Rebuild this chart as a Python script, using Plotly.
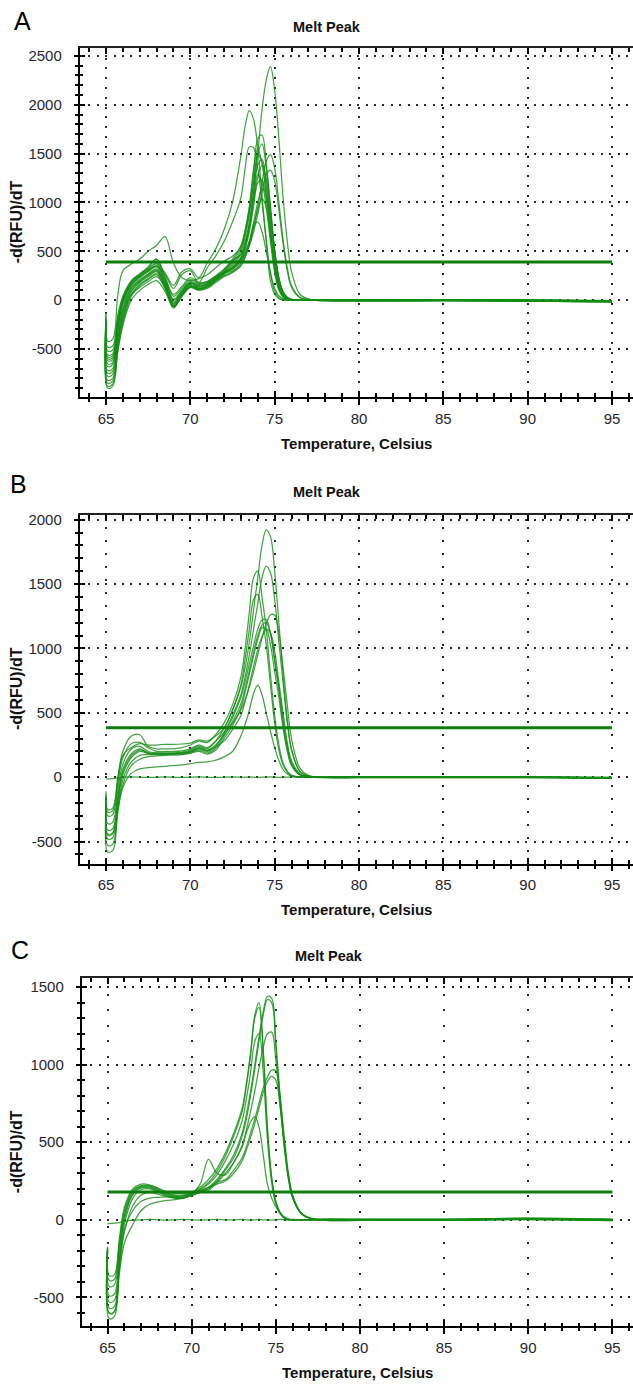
import plotly.graph_objects as go

W, H = 633, 1384

# Temperature grid (Celsius) shared by all melt curves
T = [65.0, 65.1, 65.4, 65.7, 66.0, 66.5, 67.0, 67.5, 68.0, 68.5, 69.0, 69.5, 70.0, 70.5,
     71.0, 71.5, 72.0, 72.5, 73.0, 73.25, 73.5, 73.75, 74.0, 74.25, 74.5, 74.75, 75.0,
     75.25, 75.5, 75.75, 76.0, 76.5, 77.0, 78.0, 80.0, 85.0, 90.0, 95.0]

X_TICKS = [65, 70, 75, 80, 85, 90, 95]
X_LABELS = ["65", "70", "75", "80", "85", "90", "95"]

# ---------------- Panel A : -d(RFU)/dT ----------------
A01 = [-150, -480, -470, -150, 40, 200, 270, 340, 420, 230, 40, 120, 210, 170, 190, 250, 320, 400, 470, 560, 760, 1100, 1500, 1950, 2250, 2390, 2150, 1650, 1050, 600, 290, 60, 12, 0, -2, 0, -4, -12]
A02 = [-200, -580, -570, -240, 10, 180, 260, 320, 380, 280, 150, 290, 320, 230, 380, 520, 720, 1000, 1480, 1780, 1940, 1850, 1560, 1070, 600, 200, 60, 15, 3, 0, 0, 0, 0, 6, 4, 6, 2, -6]
A03 = [-200, -560, -550, -220, 0, 170, 250, 310, 370, 210, 10, 100, 190, 160, 180, 240, 310, 420, 560, 720, 950, 1300, 1650, 1690, 1400, 950, 500, 210, 80, 25, 8, 0, 0, -6, -8, -6, -10, -18]
A04 = [-250, -650, -640, -300, -20, 160, 240, 300, 350, 260, 120, 260, 300, 180, 330, 450, 600, 800, 1050, 1350, 1570, 1560, 1350, 1000, 620, 280, 90, 25, 5, 0, 0, 0, 0, 4, 3, 5, 2, -6]
A05 = [-240, -600, -590, -260, -10, 160, 240, 300, 350, 200, 0, 90, 180, 150, 170, 230, 290, 330, 420, 500, 600, 750, 950, 1200, 1420, 1490, 1350, 1000, 620, 330, 150, 30, 8, 0, -2, 0, -4, -12]
A06 = [-310, -780, -760, -430, -150, 90, 180, 240, 290, 140, -70, 50, 140, 115, 145, 205, 275, 320, 400, 470, 560, 700, 880, 1100, 1280, 1330, 1220, 920, 580, 300, 130, 25, 6, -5, -7, -5, -9, -17]
A07 = [-230, -620, -610, -280, -40, 150, 230, 290, 340, 190, -20, 80, 170, 140, 170, 230, 300, 400, 530, 700, 950, 1350, 1550, 1400, 1080, 680, 320, 120, 40, 12, 3, 0, 0, 0, -2, 0, -4, -12]
A08 = [-260, -680, -660, -330, -80, 130, 210, 270, 320, 170, -40, 70, 160, 130, 160, 220, 290, 380, 500, 650, 880, 1200, 1490, 1420, 1150, 760, 380, 150, 50, 15, 4, 0, 0, 5, 3, 5, 1, -7]
A09 = [-300, -750, -730, -400, -130, 100, 190, 250, 300, 150, -60, 60, 150, 120, 150, 210, 280, 360, 470, 600, 800, 1100, 1380, 1440, 1220, 830, 430, 170, 60, 18, 5, 0, 0, 0, -2, 0, -4, -12]
A10 = [-330, -820, -800, -460, -180, 60, 130, 190, 240, 130, -80, 40, 130, 110, 140, 200, 270, 340, 440, 560, 740, 1000, 1260, 1380, 1250, 900, 500, 220, 80, 25, 8, 0, 0, -6, -8, -6, -10, -18]
A11 = [-380, -880, -860, -510, -240, 40, 150, 210, 260, 120, -50, 50, 140, 110, 130, 190, 260, 330, 430, 560, 760, 1050, 1290, 1200, 950, 600, 280, 100, 30, 8, 0, 0, 0, 0, -2, 0, -4, -12]
A12 = [-280, -720, -700, -370, -100, 120, 200, 260, 310, 160, -30, 90, 180, 140, 160, 215, 280, 320, 410, 520, 700, 960, 1200, 1230, 1040, 700, 350, 130, 45, 12, 3, 0, 0, 5, 3, 5, 1, -7]
A13 = [-180, -520, -510, -190, 20, 190, 260, 330, 420, 240, 60, 140, 230, 180, 190, 240, 280, 300, 380, 470, 600, 800, 1000, 1140, 1080, 850, 500, 230, 90, 30, 8, 0, 0, 0, -2, 0, -4, -12]
A14 = [-350, -850, -830, -480, -200, 60, 160, 220, 270, 140, -60, 50, 140, 120, 140, 200, 250, 290, 360, 440, 560, 740, 930, 1040, 950, 660, 350, 140, 50, 15, 4, 0, 0, 0, -2, 0, -4, -12]
A15 = [-400, -900, -880, -530, -260, 0, 100, 160, 200, 90, -70, 40, 130, 100, 120, 180, 240, 280, 350, 440, 580, 760, 800, 700, 500, 280, 120, 45, 15, 5, 0, 0, 0, -6, -8, -6, -10, -18]
A16 = [-130, -420, -400, 50, 300, 370, 420, 500, 560, 650, 380, 230, 200, 220, 260, 330, 400, 450, 540, 690, 900, 1200, 1500, 1600, 1360, 960, 520, 220, 80, 25, 8, 0, 0, 0, -2, 0, -4, -12]
A_CURVES = [A01, A02, A03, A04, A05, A06, A07, A08, A09, A10, A11, A12, A13, A14, A15, A16]
A_THRESHOLD = 390
A_YTICKS = [-500, 0, 500, 1000, 1500, 2000, 2500]
A_YLABELS = ["-500", "0", "500", "1000", "1500", "2000", "2500"]

# ---------------- Panel B ----------------
B00 = [-10, -12, -10, -5, 0, 2, 0, -2, 0, 2, 0, -2, 0, 2, 0, -2, 0, 2, 0, 0, 2, 0, -2, 0, 0, 2, 0, -2, 0, 0, 2, 0, 0, 2, -2, 2, 0, -5]
B01 = [-130, -270, -260, -20, 170, 230, 260, 250, 250, 255, 255, 258, 265, 290, 280, 320, 380, 520, 700, 850, 1050, 1300, 1550, 1800, 1920, 1870, 1600, 1200, 800, 450, 220, 45, 10, 0, 0, 0, 0, -5]
B02 = [-110, -250, -240, 0, 200, 320, 330, 240, 220, 220, 220, 230, 250, 280, 270, 330, 420, 560, 780, 1000, 1280, 1550, 1600, 1400, 1150, 800, 480, 250, 110, 45, 15, 3, 0, 5, 4, 5, 3, -2]
B03 = [-150, -300, -290, -50, 150, 260, 270, 230, 200, 200, 200, 205, 220, 250, 230, 280, 350, 480, 640, 780, 950, 1150, 1350, 1550, 1640, 1590, 1380, 1050, 730, 420, 210, 45, 8, 0, 0, 0, 0, -5]
B04 = [-170, -360, -350, -100, 100, 220, 240, 200, 190, 190, 190, 195, 210, 240, 220, 280, 380, 520, 720, 920, 1150, 1380, 1420, 1250, 1030, 720, 420, 210, 95, 40, 12, 2, 0, -4, -4, -4, -3, -8]
B05 = [-200, -410, -400, -150, 60, 180, 220, 190, 185, 185, 185, 190, 200, 230, 210, 250, 330, 420, 520, 600, 700, 820, 950, 1080, 1190, 1260, 1260, 1120, 850, 560, 300, 70, 15, 0, 0, 0, 0, -5]
B06 = [-230, -480, -470, -200, 20, 150, 200, 185, 180, 180, 182, 185, 195, 220, 200, 240, 340, 460, 620, 740, 880, 1020, 1150, 1220, 1225, 1120, 900, 680, 420, 220, 100, 20, 4, 5, 4, 5, 3, -2]
B07 = [-260, -530, -520, -240, -20, 120, 170, 175, 175, 175, 178, 180, 190, 210, 190, 225, 320, 430, 570, 690, 830, 970, 1100, 1180, 1200, 1120, 920, 700, 450, 240, 110, 22, 5, 0, 0, 0, 0, -5]
B08 = [-290, -580, -570, -280, -60, 90, 140, 160, 165, 170, 172, 175, 185, 200, 180, 210, 300, 400, 540, 660, 800, 940, 1070, 1160, 1150, 1030, 820, 620, 380, 200, 90, 18, 4, -4, -4, -4, -3, -8]
B09 = [-210, -440, -430, -180, 40, 165, 210, 188, 182, 183, 184, 187, 197, 225, 205, 235, 280, 370, 480, 590, 720, 860, 990, 1090, 1150, 1120, 980, 740, 500, 270, 130, 28, 6, 0, 0, 0, 0, -5]
B10 = [-200, -450, -440, -250, -80, 30, 65, 75, 80, 85, 90, 95, 105, 115, 120, 132, 158, 200, 320, 410, 520, 650, 715, 640, 500, 360, 230, 130, 60, 25, 8, 0, 0, 0, 0, 0, 0, -5]
B_CURVES = [B00, B01, B02, B03, B04, B05, B06, B07, B08, B09, B10]
B_THRESHOLD = 385
B_YTICKS = [-500, 0, 500, 1000, 1500, 2000]
B_YLABELS = ["-500", "0", "500", "1000", "1500", "2000"]

# ---------------- Panel C ----------------
C00 = [-24, -24, -22, -18, -10, -3, 0, 2, 0, -2, 0, 2, 0, -2, 0, 2, 0, 0, 2, 0, -2, 0, 2, 0, 0, -2, 0, 2, 0, 0, 2, 0, -2, 2, 0, 0, 6, 0]
C01 = [-176, -360, -355, -120, 80, 200, 230, 225, 205, 180, 170, 170, 180, 210, 260, 330, 430, 560, 720, 880, 1080, 1320, 1400, 1100, 600, 280, 120, 50, 15, 0, 0, 0, 0, 0, 0, 0, 5, 0]
C02 = [-180, -390, -385, -150, 60, 190, 220, 220, 200, 175, 160, 160, 175, 200, 240, 310, 410, 540, 700, 860, 1060, 1300, 1370, 1080, 580, 270, 115, 45, 12, 0, 0, 0, 0, 5, 4, 5, 10, 4]
C03 = [-185, -430, -420, -180, 40, 180, 215, 215, 195, 170, 155, 155, 170, 195, 230, 290, 380, 490, 640, 780, 950, 1150, 1200, 950, 520, 240, 100, 40, 10, 0, 0, 0, 0, 0, 0, 0, 5, 0]
C04 = [-190, -490, -480, -220, 20, 170, 210, 210, 190, 165, 150, 150, 165, 185, 210, 260, 330, 420, 560, 680, 830, 1000, 1180, 1340, 1440, 1430, 1150, 800, 500, 280, 150, 45, 12, -4, -4, -4, 1, -5]
C05 = [-195, -530, -520, -250, 0, 160, 205, 205, 185, 160, 145, 145, 160, 180, 200, 250, 320, 400, 540, 650, 800, 970, 1150, 1320, 1420, 1400, 1120, 780, 480, 270, 140, 42, 10, 0, 0, 0, 5, 0]
C06 = [-200, -570, -560, -280, -30, 140, 195, 200, 180, 155, 140, 140, 155, 175, 190, 240, 300, 370, 480, 580, 700, 830, 980, 1110, 1200, 1210, 1030, 740, 470, 260, 140, 40, 10, 5, 4, 5, 10, 4]
C07 = [-205, -605, -595, -320, -80, 90, 160, 175, 165, 150, 140, 140, 160, 185, 200, 240, 260, 320, 400, 470, 560, 650, 750, 850, 920, 965, 960, 800, 540, 300, 160, 45, 12, 0, 0, 0, 5, 0]
C08 = [-210, -637, -625, -350, -150, -30, 60, 100, 115, 125, 130, 140, 160, 190, 210, 230, 250, 300, 380, 450, 530, 620, 720, 820, 890, 925, 900, 740, 500, 280, 150, 42, 10, -4, -4, -4, 1, -5]
C09 = [-200, -600, -590, -300, -60, 60, 120, 140, 145, 148, 150, 155, 170, 230, 390, 300, 290, 370, 470, 560, 630, 665, 600, 420, 230, 140, 85, 45, 20, 8, 0, 0, 0, 0, 0, 0, 5, 0]
C_CURVES = [C00, C01, C02, C03, C04, C05, C06, C07, C08, C09]
C_THRESHOLD = 180
C_YTICKS = [-500, 0, 500, 1000, 1500]
C_YLABELS = ["-500", "0", "500", "1000", "1500"]

THRESH_X = [65, 95]
LETTERS = ["A", "B", "C"]
TITLE = "Melt Peak"
X_TITLE = "Temperature, Celsius"
Y_TITLE = "-d(RFU)/dT"

# ---------------- geometry (pixels) ----------------
PANELS = [
    dict(curves=A_CURVES, thr=A_THRESHOLD, yt=A_YTICKS, yl=A_YLABELS, yr=[-990, 2582],
         xr=[63.46, 96.245], left=80, top=44, bottom=394, vdash="2px,7.8px",
         letter_xy=(22, 17), title_xy=(327, 23), xtitle_y=441),
    dict(curves=B_CURVES, thr=B_THRESHOLD, yt=B_YTICKS, yl=B_YLABELS, yr=[-670, 2040],
         xr=[63.46, 96.245], left=80, top=512, bottom=862, vdash="2px,10.9px",
         letter_xy=(18, 481), title_xy=(327, 489), xtitle_y=908),
    dict(curves=C_CURVES, thr=C_THRESHOLD, yt=C_YTICKS, yl=C_YLABELS, yr=[-686, 1558],
         xr=[63.48, 96.23], left=82, top=977, bottom=1326, vdash="2px,13.5px",
         letter_xy=(20, 949), title_xy=(329, 955), xtitle_y=1372),
]

CURVE_COLOR = "rgba(20,140,20,0.8)"
THRESH_COLOR = "#0d7d0d"
FONT = "Liberation Sans, Arial, sans-serif"
TICKFONT = dict(family=FONT, size=15, color="#26262e")

fig = go.Figure()
layout = dict(width=W, height=H, margin=dict(l=0, r=0, t=0, b=0),
              paper_bgcolor="white", plot_bgcolor="white", showlegend=False)
annotations = []


def key(kind, n):
    return kind + "axis" + ("" if n == 1 else str(n))


def ref(kind, n):
    return kind + ("" if n == 1 else str(n))


for i, p in enumerate(PANELS):
    xm, ym = i + 1, i + 1
    xin, xtop, yin = 4 + 2 * i, 5 + 2 * i, 4 + i
    xd = [p["left"] / W, 1.0]
    yd = [1 - p["bottom"] / H, 1 - p["top"] / H]

    for c in p["curves"]:
        fig.add_trace(go.Scatter(x=T, y=c, mode="lines", hoverinfo="skip",
                                 line=dict(color=CURVE_COLOR, width=1.25, shape="spline", smoothing=1.0),
                                 xaxis=ref("x", xm), yaxis=ref("y", ym)))
    fig.add_trace(go.Scatter(x=THRESH_X, y=[p["thr"], p["thr"]], mode="lines", hoverinfo="skip",
                             line=dict(color=THRESH_COLOR, width=3),
                             xaxis=ref("x", xm), yaxis=ref("y", ym)))
    # empty traces so that overlay axes get drawn
    for xa, ya in [(ref("x", xin), ref("y", ym)), (ref("x", xtop), ref("y", ym)), (ref("x", xm), ref("y", yin))]:
        fig.add_trace(go.Scatter(x=[], y=[], xaxis=xa, yaxis=ya, hoverinfo="skip"))

    layout[key("x", xm)] = dict(
        domain=xd, anchor=ref("y", ym), range=p["xr"], tickmode="array", tickvals=X_TICKS,
        ticktext=X_LABELS, ticks="outside", ticklen=6, tickwidth=1.5, tickcolor="black",
        minor=dict(tickmode="linear", tick0=0, dtick=1, ticks="outside", ticklen=3.5,
                   tickwidth=1.5, tickcolor="black", showgrid=False),
        showline=True, linecolor="black", linewidth=1.5, showgrid=True, gridcolor="#2a2a2a",
        gridwidth=1.6, griddash=p["vdash"], zeroline=False, tickfont=TICKFONT,
        ticklabelstandoff=1, fixedrange=True)
    layout[key("x", xin)] = dict(
        overlaying=ref("x", xm), anchor=ref("y", ym), side="bottom", range=p["xr"],
        tickmode="array", tickvals=X_TICKS, ticks="inside", ticklen=6, tickwidth=1.5,
        tickcolor="black", showticklabels=False, showgrid=False, zeroline=False, showline=False,
        minor=dict(tickmode="linear", tick0=0, dtick=1, ticks="inside", ticklen=3.5,
                   tickwidth=1.5, tickcolor="black"), fixedrange=True)
    layout[key("x", xtop)] = dict(
        overlaying=ref("x", xm), anchor=ref("y", ym), side="top", range=p["xr"],
        tickmode="array", tickvals=X_TICKS, ticks="inside", ticklen=6, tickwidth=1.5,
        tickcolor="black", showticklabels=False, showgrid=False, zeroline=False,
        showline=True, linecolor="#222", linewidth=2,
        minor=dict(tickmode="linear", tick0=0, dtick=1, ticks="inside", ticklen=4,
                   tickwidth=1.5, tickcolor="black"), fixedrange=True)
    layout[key("y", ym)] = dict(
        domain=yd, anchor=ref("x", xm), range=p["yr"], tickmode="array", tickvals=p["yt"],
        ticktext=p["yl"], ticks="outside", ticklen=4.5, tickwidth=1.5, tickcolor="black",
        minor=dict(tickmode="linear", tick0=0, dtick=100, ticks="outside", ticklen=3,
                   tickwidth=1.5, tickcolor="black", showgrid=False),
        showline=True, linecolor="black", linewidth=1.5, showgrid=True, gridcolor="#2a2a2a",
        gridwidth=1.6, griddash="2px,6.4px", zeroline=False, tickfont=TICKFONT,
        ticklabelstandoff=9, fixedrange=True)
    layout[key("y", yin)] = dict(
        overlaying=ref("y", ym), anchor=ref("x", xm), side="left", range=p["yr"],
        tickmode="array", tickvals=p["yt"], ticks="inside", ticklen=4.5, tickwidth=1.5,
        tickcolor="black", showticklabels=False, showgrid=False, zeroline=False, showline=False,
        minor=dict(tickmode="linear", tick0=0, dtick=100, ticks="inside", ticklen=3,
                   tickwidth=1.5, tickcolor="black"), fixedrange=True)

    lx, ly = p["letter_xy"]
    annotations.append(dict(text=LETTERS[i], x=lx / W, y=1 - ly / H, xref="paper", yref="paper",
                            showarrow=False, xanchor="center", yanchor="middle",
                            font=dict(family=FONT, size=25, color="black")))
    tx, ty = p["title_xy"]
    annotations.append(dict(text="<b>" + TITLE + "</b>", x=tx / W, y=1 - ty / H, xref="paper",
                            yref="paper", showarrow=False, xanchor="center", yanchor="middle",
                            font=dict(family=FONT, size=14.5, color="#111")))
    annotations.append(dict(text="<b>" + X_TITLE + "</b>", x=(p["left"] + W) / 2 / W,
                            y=1 - p["xtitle_y"] / H, xref="paper", yref="paper", showarrow=False,
                            xanchor="center", yanchor="middle",
                            font=dict(family=FONT, size=15, color="#111")))
    annotations.append(dict(text="<b>" + Y_TITLE + "</b>", x=16 / W,
                            y=1 - (p["top"] + p["bottom"]) / 2 / H, xref="paper", yref="paper",
                            showarrow=False, xanchor="center", yanchor="middle", textangle=-90,
                            font=dict(family=FONT, size=16, color="#111")))

layout["annotations"] = annotations
fig.update_layout(**layout)
fig.write_html("out.html", config={"displayModeBar": False},
               post_script="document.body.style.margin='0px';document.documentElement.style.overflow='hidden';")
